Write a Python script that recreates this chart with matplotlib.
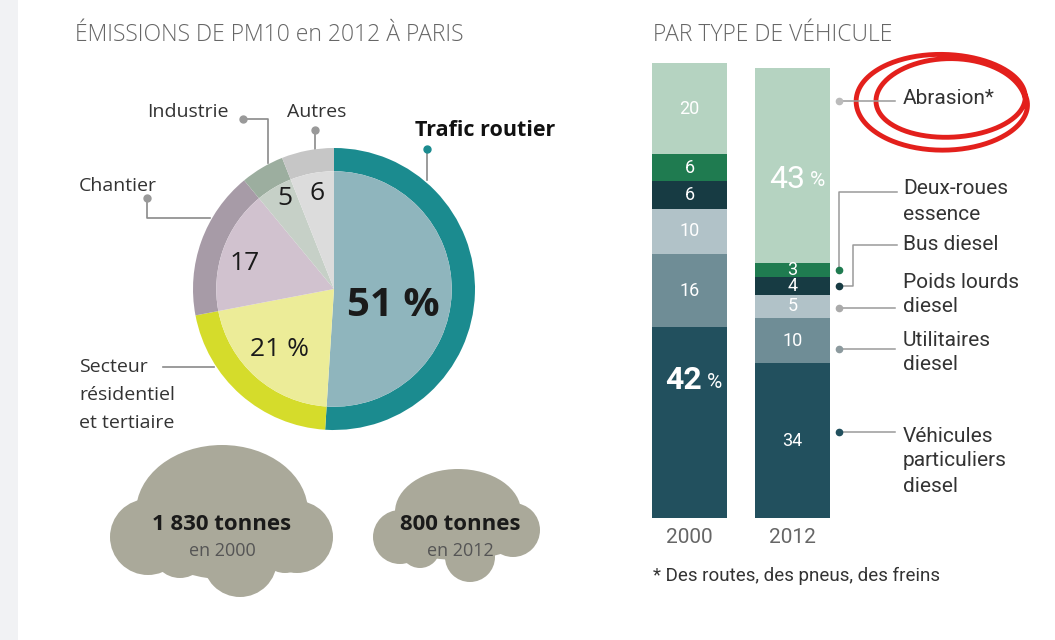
import numpy as np
import matplotlib
matplotlib.use('Agg')
import matplotlib.pyplot as plt
from matplotlib.patches import Circle, Ellipse, Rectangle

# Camembert : émissions de PM10 en 2012 par secteur
secteurs = ['Trafic routier', 'Secteur résidentiel et tertiaire', 'Chantier', 'Industrie', 'Autres']
parts_secteurs = [51, 21, 17, 5, 6]
etiquettes_secteurs = ['51 %', '21 %', '17', '5', '6']

# Barres empilées : part par type de véhicule
annees = ['2000', '2012']
types_vehicule = ['Véhicules\nparticuliers\ndiesel', 'Utilitaires\ndiesel', 'Poids lourds\ndiesel',
                  'Bus diesel', 'Deux-roues\nessence', 'Abrasion*']
parts_2000 = [42, 16, 10, 6, 6, 20]
parts_2012 = [34, 10, 5, 4, 3, 43]

# Tonnages totaux
tonnes = ['1 830 tonnes', '800 tonnes']
tonnes_annees = ['en 2000', 'en 2012']

W, H = 1055, 640
POLICE = ['Open Sans', 'DejaVu Sans']
ETROITE = ['Liberation Sans Narrow', 'Roboto', 'DejaVu Sans']

couleurs_anneau = ['#1b8b8f', '#d5dc2b', '#a79ba7', '#9cae9f', '#c6c6c6']
couleurs_centre = ['#8fb5bd', '#ecec98', '#d1c2cf', '#c6d0c7', '#dcdcdc']
couleurs_barres = ['#22505e', '#6f8d96', '#b1c2c8', '#173b43', '#1f7b50', '#b5d3c1']


def boite(x0, y0, x1, y1):
    # convertit une boîte en pixels (origine en haut) en coordonnées figure
    return [x0 / W, 1 - y1 / H, (x1 - x0) / W, (y1 - y0) / H]


def texte_lignes(ax, x, y, texte, pas, **kw):
    for i, ligne in enumerate(texte.split('\n')):
        ax.text(x, y + i * pas, ligne, **kw)


def nuage(ax, cercles, ellipses, couleur):
    for cx, cy, r in cercles:
        ax.add_patch(Circle((cx, cy), r, color=couleur, lw=0))
    for cx, cy, w, h in ellipses:
        ax.add_patch(Ellipse((cx, cy), w, h, color=couleur, lw=0))


def dessiner_camembert(fig, bg):
    ax = fig.add_axes(boite(193, 148, 475, 430))
    ax.pie(parts_secteurs, radius=1, startangle=90, counterclock=False,
           colors=couleurs_anneau, wedgeprops=dict(width=0.165, linewidth=0))
    ax.pie(parts_secteurs, radius=0.835, startangle=90, counterclock=False,
           colors=couleurs_centre, wedgeprops=dict(linewidth=0))
    ax.set_xlim(-1, 1)
    ax.set_ylim(-1, 1)
    ax.set_aspect('equal')
    ax.axis('off')

    positions = [(0.42, -0.12), (-0.39, -0.43), (-0.63, 0.18), (-0.35, 0.64), (-0.12, 0.68)]
    tailles = [29, 19, 19, 19, 19]
    for (x, y), etiq, t in zip(positions, etiquettes_secteurs, tailles):
        ax.text(x, y, etiq, ha='center', va='center', fontsize=t, color='#1a1a1a',
                family=POLICE, fontweight='bold' if t > 20 else 'normal')

    # étiquettes extérieures et traits de rappel
    gris = '#8a8a8a'
    bg.text(415, 130, secteurs[0], ha='left', va='center', fontsize=15.5, fontweight='bold',
            color='#111111', family=POLICE)
    bg.plot([427, 427], [149, 180], color=gris, lw=1.2)
    bg.plot(427, 149, 'o', ms=5, color='#1b8b8f')

    bg.text(317, 112, secteurs[4], ha='center', va='center', fontsize=14, color='#333333', family=POLICE)
    bg.plot([315, 315], [130, 150], color=gris, lw=1.2)
    bg.plot(315, 130, 'o', ms=5, color='#999999')

    bg.text(147, 112, secteurs[3], ha='left', va='center', fontsize=14, color='#333333', family=POLICE)
    bg.plot([243, 268, 268], [119, 119, 163], color=gris, lw=1.2)
    bg.plot(243, 119, 'o', ms=5, color='#999999')

    bg.text(79, 186, secteurs[2], ha='left', va='center', fontsize=14, color='#333333', family=POLICE)
    bg.plot([147, 147, 210], [198, 218, 218], color=gris, lw=1.2)
    bg.plot(147, 198, 'o', ms=5, color='#999999')

    texte_lignes(bg, 79, 367, 'Secteur\nrésidentiel\net tertiaire', 28, ha='left', va='center',
                 fontsize=14, color='#333333', family=POLICE)
    bg.plot([163, 214], [367, 367], color=gris, lw=1.2)


def dessiner_nuages(bg):
    couleur = '#aaa99a'
    nuage(bg, [(148, 537, 38), (297, 537, 36), (180, 550, 28), (240, 560, 37), (285, 548, 25)],
          [(222, 512, 172, 134), (222, 540, 200, 60)], couleur)
    nuage(bg, [(400, 537, 27), (513, 530, 27), (470, 557, 25), (420, 548, 20)],
          [(458, 512, 126, 86), (458, 535, 130, 50)], couleur)

    for cx, t, a in zip([222, 460], tonnes, tonnes_annees):
        bg.text(cx, 524, t, ha='center', va='center', fontsize=16, fontweight='bold',
                color='#1a1a1a', family=POLICE)
        bg.text(cx, 551, a, ha='center', va='center', fontsize=13, color='#555555', family=POLICE)


def dessiner_barres(fig, bg):
    ax = fig.add_axes(boite(637.5, 63, 843.5, 518))
    x = np.arange(len(annees))
    largeur = 0.728
    for i, valeurs in enumerate([parts_2000, parts_2012]):
        bas = 0
        for j, v in enumerate(valeurs):
            ax.bar(x[i], v, largeur, bottom=bas, color=couleurs_barres[j], linewidth=0)
            if j == 0 and i == 0:
                yt = bas + v * 0.72
            elif j == len(valeurs) - 1 and i == 1:
                yt = bas + v * 0.43
            else:
                yt = bas + v / 2
            grand = (i == 0 and j == 0) or (i == 1 and j == len(valeurs) - 1)
            if grand:
                ax.text(x[i] + 0.125, yt, str(v), ha='right', va='center', fontsize=23,
                        color='white', family=ETROITE, fontweight='bold' if i == 0 else 'normal')
                ax.text(x[i] + 0.165, yt - 0.4, '%', ha='left', va='center', fontsize=15,
                        color='white', family=ETROITE)
            else:
                ax.text(x[i], yt, str(v), ha='center', va='center', fontsize=13,
                        color='white', family=ETROITE)
            bas += v
        ax.text(x[i], -4.2, annees[i], ha='center', va='center', fontsize=15,
                color='#666666', family=ETROITE, clip_on=False)
    ax.set_xlim(-0.505, 1.495)
    ax.set_ylim(0, 100)
    ax.axis('off')

    # légende avec traits de rappel (coordonnées des données de la barre 2012)
    def bx(px):
        return (px - 637.5) / 103 - 0.505

    def by(py):
        return (518 - py) / 4.55

    x_point = x[1] + largeur / 2 + 9 / 103
    cumul = np.cumsum([0] + parts_2012)
    milieux = [(cumul[k] + cumul[k + 1]) / 2 for k in range(len(parts_2012))]
    gris = '#9a9a9a'
    couleurs_points = ['#22505e', '#8c9a9e', '#aaaaaa', '#173b43', '#1f7b50', '#bbbbbb']

    # traits droits
    for k, py in [(0, 432), (1, 349), (2, 308), (5, 101)]:
        ax.plot([x_point, bx(895)], [by(py), by(py)], color=gris, lw=1.1, clip_on=False)
        ax.plot(x_point, by(py), 'o', ms=4.5, color=couleurs_points[k], clip_on=False)
    # traits coudés
    ax.plot([x_point, x_point, bx(897)], [milieux[4], by(192), by(192)], color=gris, lw=1.1, clip_on=False)
    ax.plot(x_point, milieux[4], 'o', ms=4.5, color=couleurs_points[4], clip_on=False)
    ax.plot([x_point, bx(853), bx(853), bx(897)], [milieux[3], milieux[3], by(245), by(245)],
            color=gris, lw=1.1, clip_on=False)
    ax.plot(x_point, milieux[3], 'o', ms=4.5, color=couleurs_points[3], clip_on=False)

    y_textes = [436, 340, 282, 244, 189, 99]
    for nom, yt in zip(types_vehicule, y_textes):
        texte_lignes(bg, 903, yt, nom, 25, ha='left', va='center', fontsize=15,
                     color='#333333', family=ETROITE)

    bg.text(653, 576, '* Des routes, des pneus, des freins', ha='left', va='center',
            fontsize=13.5, color='#333333', family=ETROITE)


def main():
    fig = plt.figure(figsize=(W / 100, H / 100), dpi=100)
    bg = fig.add_axes([0, 0, 1, 1])
    bg.set_xlim(0, W)
    bg.set_ylim(H, 0)
    bg.set_aspect('equal')
    bg.axis('off')
    bg.add_patch(Rectangle((0, 0), 18, H, color='#f1f2f4', lw=0))

    bg.text(75, 35, 'ÉMISSIONS DE PM10 en 2012 À PARIS', ha='left', va='center', fontsize=16.5,
            color='#666666', family=POLICE, fontweight='light')
    bg.text(653, 35, 'PAR TYPE DE VÉHICULE', ha='left', va='center', fontsize=16.5,
            color='#666666', family=POLICE, fontweight='light')

    dessiner_camembert(fig, bg)
    dessiner_nuages(bg)
    dessiner_barres(fig, bg)

    # annotation au feutre rouge autour de « Abrasion* » (deux tours à main levée)
    t = np.linspace(0.05 * np.pi, 4.1 * np.pi, 500)
    rx = 80 - 5 * np.sin(t / 2.1)
    ry = 43 + 4 * np.cos(t / 1.6)
    xs = 946 + rx * np.cos(t) + 5 * np.sin(t / 2)
    ys = 101 - ry * np.sin(t) + 4 * np.cos(t / 2)
    bg.plot(xs, ys, color='#e3201c', lw=3.5, solid_capstyle='round')

    fig.savefig('out.png', dpi=100)


if __name__ == "__main__":
    main()
